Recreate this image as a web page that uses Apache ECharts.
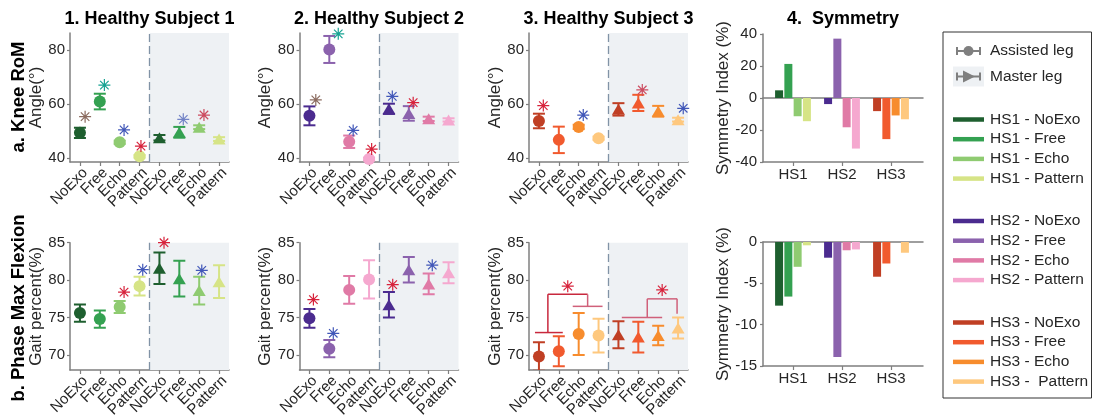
<!DOCTYPE html>
<html><head><meta charset="utf-8">
<script src="https://cdn.jsdelivr.net/npm/echarts@6/dist/echarts.min.js"></script>
<style>html,body{margin:0;padding:0;background:#fff}#c{width:1093px;height:420px}</style>
</head><body><div id="c"></div>
<script>
// ---------------- data ----------------
const conditions = ['NoExo', 'Free', 'Echo', 'Pattern'];
const tickLabels = ['NoExo', 'Free', 'Echo', 'Pattern', 'NoExo', 'Free', 'Echo', 'Pattern'];
const subjects = ['HS1', 'HS2', 'HS3'];
const panelTitles = ['1. Healthy Subject 1', '2. Healthy Subject 2', '3. Healthy Subject 3', '4.  Symmetry'];
const rowLabels = ['a. Knee RoM', 'b. Phase Max Flexion'];
const colorsHS1 = ['#1e5f2f', '#34a151', '#8fcb71', '#d6e486'];
const colorsHS2 = ['#4b2b8f', '#8b62ad', '#e07aa6', '#f5a8cf'];
const colorsHS3 = ['#c03f24', '#f15a2e', '#f78c2d', '#fec87e'];
const legendNamesHS1 = ['HS1 - NoExo', 'HS1 - Free', 'HS1 - Echo', 'HS1 - Pattern'];
const legendNamesHS2 = ['HS2 - NoExo', 'HS2 - Free', 'HS2 - Echo', 'HS2 - Pattern'];
const legendNamesHS3 = ['HS3 - NoExo', 'HS3 - Free', 'HS3 - Echo', 'HS3 -  Pattern'];

// Knee RoM (deg): assisted leg NoExo, Free, Echo, Pattern, then master leg NoExo, Free, Echo, Pattern
const romMeanHS1 = [49.3, 60.9, 45.8, 40.6, 47.5, 49.5, 51.4, 47.0];
const romSdHS1   = [1.9, 2.9, 0.6, 0.5, 1.0, 2.0, 0.7, 0.7];
const romMeanHS2 = [55.6, 80.2, 46.0, 39.6, 58.2, 56.5, 54.5, 54.1];
const romSdHS2   = [3.5, 5.0, 2.3, 0.5, 1.9, 2.7, 0.8, 0.6];
const romMeanHS3 = [53.7, 46.7, 51.5, 47.3, 58.0, 60.4, 57.3, 54.2];
const romSdHS3   = [2.7, 4.9, 0.8, 0.6, 2.3, 3.0, 2.0, 0.7];
// Phase of max flexion (% gait)
const phaseMeanHS1 = [75.6, 74.8, 76.4, 79.2, 81.6, 80.2, 78.6, 79.8];
const phaseSdHS1   = [1.15, 1.15, 0.8, 1.25, 2.1, 2.4, 1.85, 2.2];
const phaseMeanHS2 = [74.9, 70.85, 78.7, 80.1, 76.7, 81.4, 79.5, 81.0];
const phaseSdHS2   = [1.25, 1.15, 1.85, 2.55, 1.7, 1.7, 1.4, 1.4];
const phaseMeanHS3 = [69.8, 70.5, 72.8, 72.6, 72.7, 72.4, 72.6, 73.6];
const phaseSdHS3   = [1.9, 2.0, 2.8, 2.25, 1.8, 2.05, 1.3, 1.4];

// significance stars: [category position, value, colour key]
const romStarsHS1 = [[0.26, 55.3, 'brown'], [1.23, 67.0, 'teal'], [2.22, 50.4, 'blue'], [3.07, 44.4, 'red'], [5.2, 54.3, 'paleBlue'], [6.24, 55.9, 'rose']];
const romStarsHS2 = [[0.32, 61.5, 'brown'], [1.45, 86.0, 'teal'], [2.2, 50.2, 'blue'], [3.13, 43.3, 'red'], [4.17, 62.8, 'blue'], [5.22, 60.5, 'red']];
const romStarsHS3 = [[0.22, 59.4, 'red'], [2.23, 55.9, 'blue'], [5.2, 65.2, 'rose'], [7.26, 58.4, 'blue']];
const phaseStarsHS1 = [[2.22, 78.4, 'red'], [3.16, 81.4, 'blue'], [4.23, 85.0, 'red'], [6.13, 81.3, 'blue']];
const phaseStarsHS2 = [[0.2, 77.4, 'red'], [1.2, 72.9, 'blue'], [4.19, 79.4, 'red'], [6.18, 82.0, 'blue']];
const phaseStarsHS3 = [[1.45, 79.2, 'red'], [6.2, 78.7, 'red']];
// significance brackets in HS3 phase panel: [x1, y1, x2, y2, colour key]
const bracketsPhaseHS3 = [
  [-0.2, 73.0, 1.2, 73.0, 'bRed'], [0.45, 73.0, 0.45, 78.1, 'bRed'], [0.45, 78.1, 2.45, 78.1, 'bRed'],
  [2.45, 78.1, 2.45, 76.5, 'bRose'], [1.7, 76.5, 3.2, 76.5, 'bRose'],
  [4.17, 75.0, 6.2, 75.0, 'bRose'], [5.45, 75.0, 5.45, 77.5, 'bRose'], [5.45, 77.5, 6.95, 77.5, 'bRose'], [6.95, 77.5, 6.95, 75.5, 'bRose']
];

// Symmetry index (%), per subject: NoExo, Free, Echo, Pattern
const symRomHS1 = [4.8, 21.3, -11.4, -14.5];
const symRomHS2 = [-3.8, 37.1, -18.3, -31.6];
const symRomHS3 = [-8.2, -25.7, -10.9, -13.3];
const symPhaseHS1 = [-7.7, -6.6, -3.0, -0.4];
const symPhaseHS2 = [-1.9, -13.9, -1.0, -0.9];
const symPhaseHS3 = [-4.2, -2.6, 0.2, -1.3];

const romTicks = [40, 60, 80];
const phaseTicks = [70, 75, 80, 85];

// ---------------- styling ----------------
const FONT = '"Liberation Sans", Arial, Helvetica, sans-serif';
const AX = '#7f7f7f', TXT = '#262626', SHADE = '#eef1f4', DASH = '#8193a6';
const starColors = {brown: '#8b6b5f', teal: '#17a393', blue: '#4157b8', red: '#d7223b', paleBlue: '#7283c6', rose: '#cc4c60', bRed: '#c8283d', bRose: '#d0607a'};
const STAR = 'path://M0 9L20 9L20 11L0 11Z M9 0L11 0L11 20L9 20Z M3.64 2.22L17.78 16.36L16.36 17.78L2.22 3.64Z M3.64 17.78L2.22 16.36L16.36 2.22L17.78 3.64Z';
const subjectColors = [colorsHS1, colorsHS2, colorsHS3];

const grids = [], xAxes = [], yAxes = [], series = [];

function renderErr(params, api) {
  const x = api.value(0), lo = api.value(1), hi = api.value(2);
  const p1 = api.coord([x, hi]), p2 = api.coord([x, lo]);
  const hw = 6, color = api.visual('color');
  const style = {stroke: color, lineWidth: 2, fill: null};
  return {type: 'group', children: [
    {type: 'line', shape: {x1: p1[0], y1: p1[1], x2: p2[0], y2: p2[1]}, style},
    {type: 'line', shape: {x1: p1[0] - hw, y1: p1[1], x2: p1[0] + hw, y2: p1[1]}, style},
    {type: 'line', shape: {x1: p2[0] - hw, y1: p2[1], x2: p2[0] + hw, y2: p2[1]}, style}
  ]};
}
function renderSeg(params, api) {
  const a = api.coord([api.value(0), api.value(1)]), b = api.coord([api.value(2), api.value(3)]);
  return {type: 'line', shape: {x1: a[0], y1: a[1], x2: b[0], y2: b[1]}, style: {stroke: api.visual('color'), lineWidth: 1.5}};
}

function addPointPanel(left, top, height, ymin, ymax, yticks, yname, means, sds, colors, stars, brackets) {
  const gi = grids.length;
  grids.push({left, top, width: 159, height});
  // visible category axis: ticks + labels
  xAxes.push({type: 'category', gridIndex: gi, data: tickLabels, boundaryGap: true,
    axisLine: {show: true, onZero: false, lineStyle: {color: AX, width: 1.5}},
    axisTick: {show: true, alignWithLabel: true, interval: 0, length: 4, lineStyle: {color: AX, width: 1.2}},
    axisLabel: {show: true, interval: 0, rotate: 45, fontSize: 15, fontFamily: FONT, color: TXT, margin: 3, verticalAlign: 'top'},
    splitLine: {show: false}});
  // hidden value axis on the same span, used to place the marks
  xAxes.push({type: 'value', gridIndex: gi, min: -0.5, max: 7.5, show: false,
    axisLine: {onZero: false}, splitLine: {show: false}});
  const xi = xAxes.length - 1;
  yAxes.push({type: 'value', gridIndex: gi, min: ymin, max: ymax,
    axisLine: {show: true, onZero: false, lineStyle: {color: AX, width: 1.5}},
    axisTick: {show: true, customValues: yticks, length: 3, lineStyle: {color: AX, width: 1.2}},
    axisLabel: {show: true, customValues: yticks, showMinLabel: true, showMaxLabel: true, fontSize: 15, fontFamily: FONT, color: TXT, margin: 5},
    splitLine: {show: false},
    name: yname, nameLocation: 'middle', nameGap: 20,
    nameTextStyle: {fontSize: 17, fontFamily: FONT, color: TXT}});
  const yi = yAxes.length - 1;
  series.push({type: 'line', xAxisIndex: xi, yAxisIndex: yi, data: [], silent: true, z: 1,
    markArea: {silent: true, itemStyle: {color: SHADE}, data: [[{xAxis: 3.5}, {xAxis: 7.5}]]},
    markLine: {silent: true, symbol: ['none', 'none'], label: {show: false},
      lineStyle: {color: DASH, type: [8, 4], width: 1.3}, data: [{xAxis: 3.5}]}});
  series.push({type: 'custom', xAxisIndex: xi, yAxisIndex: yi, z: 3, clip: true, silent: true,
    encode: {x: 0, y: [1, 2]}, renderItem: renderErr,
    data: means.map((m, i) => ({value: [i, m - sds[i], m + sds[i]], itemStyle: {color: colors[i % 4]}}))});
  series.push({type: 'scatter', xAxisIndex: xi, yAxisIndex: yi, z: 4, symbol: 'circle', symbolSize: 12, silent: true,
    data: means.slice(0, 4).map((m, i) => ({value: [i, m], itemStyle: {color: colors[i], opacity: 1}}))});
  series.push({type: 'scatter', xAxisIndex: xi, yAxisIndex: yi, z: 4, symbol: 'triangle', symbolSize: [13, 11], silent: true,
    data: means.slice(4).map((m, i) => ({value: [i + 4, m], itemStyle: {color: colors[i], opacity: 1}}))});
  series.push({type: 'scatter', xAxisIndex: xi, yAxisIndex: yi, z: 5, symbol: STAR, symbolSize: 12, clip: false, silent: true,
    data: stars.map(s => ({value: [s[0], s[1]], itemStyle: {color: starColors[s[2]], opacity: 1}}))});
  if (brackets) {
    series.push({type: 'custom', xAxisIndex: xi, yAxisIndex: yi, z: 3, silent: true,
      encode: {x: [0, 2], y: [1, 3]}, renderItem: renderSeg,
      data: brackets.map(b => ({value: b.slice(0, 4), itemStyle: {color: starColors[b[4]]}}))});
  }
  return [xi, yi];
}

function addSymPanel(top, height, ymin, ymax, interval, vals) {
  const ga = grids.length;
  grids.push({left: 763, top, width: 160, height});
  xAxes.push({type: 'value', gridIndex: ga, min: 0, max: 1, position: 'bottom',
    axisLine: {show: true, onZero: false, lineStyle: {color: AX, width: 1.5}}, axisTick: {show: false}, axisLabel: {show: false}, splitLine: {show: false}});
  xAxes.push({type: 'value', gridIndex: ga, min: 0, max: 1, position: 'top',
    axisLine: {show: true, onZero: true, lineStyle: {color: AX, width: 1.5}}, axisTick: {show: false}, axisLabel: {show: false}, splitLine: {show: false}});
  yAxes.push({type: 'value', gridIndex: ga, min: ymin, max: ymax, interval,
    axisLine: {show: true, onZero: false, lineStyle: {color: AX, width: 1.5}},
    axisTick: {show: true, length: 3, lineStyle: {color: AX, width: 1.2}},
    axisLabel: {fontSize: 15, fontFamily: FONT, color: TXT, margin: 6},
    splitLine: {show: false},
    name: 'Symmetry Index (%)', nameLocation: 'middle', nameGap: 24,
    nameTextStyle: {fontSize: 17, fontFamily: FONT, color: TXT}});
  const gb = grids.length;
  grids.push({left: 768.5, top, width: 147, height});
  xAxes.push({type: 'category', gridIndex: gb, data: subjects,
    axisLine: {show: false, onZero: false},
    axisTick: {show: true, alignWithLabel: true, length: 4, lineStyle: {color: AX, width: 1.2}},
    axisLabel: {fontSize: 15, fontFamily: FONT, color: TXT, margin: 5}});
  const xb = xAxes.length - 1;
  yAxes.push({type: 'value', gridIndex: gb, min: ymin, max: ymax, show: false});
  const yb = yAxes.length - 1;
  conditions.forEach((c, ci) => {
    series.push({type: 'bar', name: c, xAxisIndex: xb, yAxisIndex: yb, barWidth: 8, barGap: '16%', silent: true,
      data: vals.map((arr, si) => ({value: arr[ci], itemStyle: {color: subjectColors[si][ci]}}))});
  });
}

const lefts = [70, 299.5, 529];
addPointPanel(lefts[0], 33, 129, 38.5, 86.3, romTicks, 'Angle(°)', romMeanHS1, romSdHS1, colorsHS1, romStarsHS1);
addPointPanel(lefts[1], 33, 129, 38.5, 86.3, romTicks, 'Angle(°)', romMeanHS2, romSdHS2, colorsHS2, romStarsHS2);
addPointPanel(lefts[2], 33, 129, 38.5, 86.3, romTicks, 'Angle(°)', romMeanHS3, romSdHS3, colorsHS3, romStarsHS3);
addPointPanel(lefts[0], 242.7, 127.3, 68, 85, phaseTicks, 'Gait percent(%)', phaseMeanHS1, phaseSdHS1, colorsHS1, phaseStarsHS1);
addPointPanel(lefts[1], 242.7, 127.3, 68, 85, phaseTicks, 'Gait percent(%)', phaseMeanHS2, phaseSdHS2, colorsHS2, phaseStarsHS2);
const ax3 = addPointPanel(lefts[2], 242.7, 127.3, 68, 85, phaseTicks, 'Gait percent(%)', phaseMeanHS3, phaseSdHS3, colorsHS3, [], bracketsPhaseHS3);
// bracket stars (no per-category offset)
series.push({type: 'scatter', xAxisIndex: ax3[0], yAxisIndex: ax3[1], z: 5, symbol: STAR, symbolSize: 12, clip: false, silent: true,
  data: phaseStarsHS3.map(s => ({value: [s[0], s[1]], itemStyle: {color: starColors[s[2]], opacity: 1}}))});
addSymPanel(34, 128, -40, 40, 20, [symRomHS1, symRomHS2, symRomHS3]);
addSymPanel(242, 124, -15, 0, 5, [symPhaseHS1, symPhaseHS2, symPhaseHS3]);

// ---------------- titles, row labels, legend ----------------
const titleCenters = [149.5, 379, 608.5, 843];
const titles = panelTitles.map((t, i) => ({text: t, left: titleCenters[i], top: 10, textAlign: 'center', padding: 0,
  textStyle: {fontSize: 18, fontWeight: 'bold', fontFamily: FONT, color: '#000'}}));

const graphics = [];
const rowY = [97, 308];
rowLabels.forEach((t, i) => graphics.push({type: 'text', x: 18.5, y: rowY[i], rotation: Math.PI / 2,
  style: {text: t, font: 'bold 18.5px ' + FONT, fill: '#000', align: 'center', verticalAlign: 'middle', textAlign: 'center', textVerticalAlign: 'middle'}}));

// legend box
graphics.push({type: 'rect', shape: {x: 943, y: 32, width: 148.5, height: 366}, style: {fill: 'none', stroke: '#333', lineWidth: 1}});
const G = '#7f7f7f';
function errIcon(cy) {
  return [
    {type: 'line', shape: {x1: 957, y1: cy, x2: 980, y2: cy}, style: {stroke: G, lineWidth: 2}},
    {type: 'line', shape: {x1: 957, y1: cy - 4, x2: 957, y2: cy + 4}, style: {stroke: G, lineWidth: 2}},
    {type: 'line', shape: {x1: 980, y1: cy - 4, x2: 980, y2: cy + 4}, style: {stroke: G, lineWidth: 2}}
  ];
}
errIcon(51).forEach(e => graphics.push(e));
graphics.push({type: 'circle', shape: {cx: 968.5, cy: 51, r: 5}, style: {fill: G}});
graphics.push({type: 'rect', shape: {x: 953, y: 66.5, width: 31, height: 20}, style: {fill: SHADE}});
errIcon(76.5).forEach(e => graphics.push(e));
graphics.push({type: 'polygon', shape: {points: [[963, 70.5], [975, 76.5], [963, 82.5]]}, style: {fill: G}});
graphics.push({type: 'text', x: 990, y: 51, style: {text: 'Assisted leg', font: '15.5px ' + FONT, fill: TXT, verticalAlign: 'middle', textVerticalAlign: 'middle'}});
graphics.push({type: 'text', x: 990, y: 76.5, style: {text: 'Master leg', font: '15.5px ' + FONT, fill: TXT, verticalAlign: 'middle', textVerticalAlign: 'middle'}});
[legendNamesHS1, legendNamesHS2, legendNamesHS3].forEach((names, g) => {
  names.forEach((n, i) => {
    const y = 119.5 + g * 101.5 + i * 19.7;
    graphics.push({type: 'line', shape: {x1: 953, y1: y, x2: 984, y2: y}, style: {stroke: subjectColors[g][i], lineWidth: 4.5}});
    graphics.push({type: 'text', x: 990, y: y, style: {text: n, font: '15.5px ' + FONT, fill: TXT, verticalAlign: 'middle', textVerticalAlign: 'middle'}});
  });
});

const chart = echarts.init(document.getElementById('c'), null, {renderer: 'canvas'});
chart.setOption({
  animation: false,
  backgroundColor: '#fff',
  textStyle: {fontFamily: FONT},
  title: titles,
  grid: grids,
  xAxis: xAxes,
  yAxis: yAxes,
  series: series,
  graphic: {elements: graphics}
});
</script>
</body></html>
